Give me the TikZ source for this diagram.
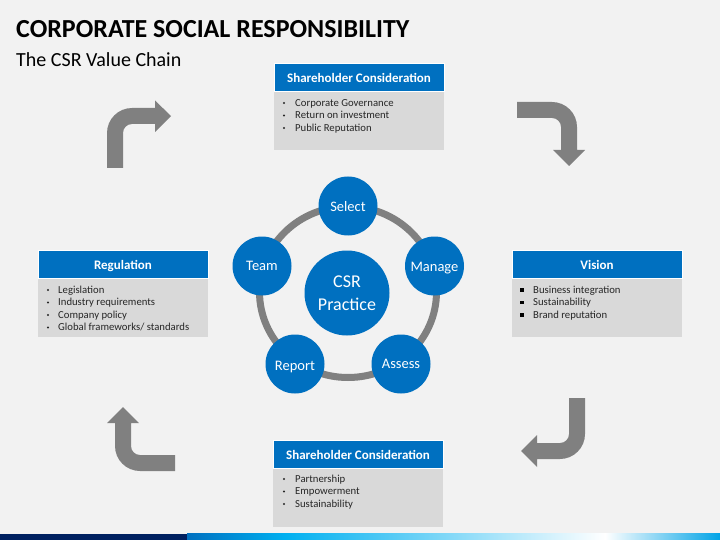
\documentclass[tikz,border=0pt]{standalone}
\usepackage{fontspec}
\setmainfont{Carlito}
\usetikzlibrary{shadings}
\definecolor{bgc}{HTML}{F2F2F2}
\definecolor{blu}{HTML}{0070C0}
\definecolor{bodyc}{HTML}{D9D9D9}
\definecolor{arrc}{HTML}{808080}
\definecolor{navy}{HTML}{002060}
\definecolor{sky}{HTML}{00B0F0}
\definecolor{txt}{HTML}{262626}
\tikzset{
  x=1pt,y=-1pt,
  hdr/.style={fill=blu,draw=white,line width=0.4pt,minimum width=170pt,minimum height=28pt,inner sep=0pt,text=white,text height=10pt,text depth=0pt,font=\fontsize{13}{15}\selectfont\bfseries},
  bodybox/.style={fill=bodyc,draw=none,anchor=north west,minimum width=170pt,minimum height=58pt,inner sep=0pt},
  item/.style={anchor=base west,inner sep=0pt,text=txt,font=\fontsize{10.7}{12}\selectfont},
  circ/.style={circle,fill=blu,draw=none,minimum size=59pt,inner sep=0pt,text=white,font=\fontsize{14.5}{17}\selectfont},
  bigarrow/.style={fill=arrc,draw=none},
}
\newcommand{\dotb}[2]{\fill[txt] (#1,#2) circle (1.2pt);}
\newcommand{\sqb}[2]{\fill[black] (#1-1.7,#2-1.7) rectangle (#1+1.7,#2+1.7);}
\newcommand{\lowered}[2]{\smash{\raisebox{-#1pt}{#2}}}
\begin{document}
\begin{tikzpicture}
\useasboundingbox (0,0) rectangle (720,540);
\fill[bgc] (0,0) rectangle (720,540);
% bottom bar
\fill[navy] (0,533.5) rectangle (187,540);
\fill[left color=blu,right color=sky] (187,533.5) rectangle (285,540);
\fill[left color=sky,right color=white] (285,533.5) rectangle (605,540);
\fill[left color=white,right color=sky!80!blu] (605,533.5) rectangle (720,540);
% title
\node[anchor=base west,inner sep=0pt,font=\fontsize{26}{30}\selectfont\bfseries,text=black] (title) at (16,37.6) {CORPORATE SOCIAL RESPONSIBILITY};
\node[anchor=base west,inner sep=0pt,font=\fontsize{20}{24}\selectfont,text=black] (subtitle) at (16,66.5) {The CSR Value Chain};
% arrows
\path[bigarrow] (107,168) -- (107,133) arc[start angle=180,end angle=90,x radius=25,y radius=-25] -- (155,108) -- (155,100.5) -- (171,116) -- (155,132) -- (155,124) -- (132,124) arc[start angle=90,end angle=180,x radius=9,y radius=-9] -- (123,168) -- cycle;
\path[bigarrow] (517,102) -- (552,102) arc[start angle=90,end angle=0,x radius=25,y radius=-25] -- (577,150) -- (585,150) -- (569,166) -- (553,150) -- (561,150) -- (561,127) arc[start angle=0,end angle=90,x radius=9,y radius=-9] -- (517,118) -- cycle;
\path[bigarrow] (585,398) -- (585,434) arc[start angle=0,end angle=-90,x radius=25,y radius=-25] -- (537,459) -- (537,467) -- (521,451) -- (537,435) -- (537,443) -- (560,443) arc[start angle=-90,end angle=0,x radius=9,y radius=-9] -- (569,398) -- cycle;
\path[bigarrow] (175,471) -- (140,471) arc[start angle=-90,end angle=-180,x radius=25,y radius=-25] -- (115,423) -- (107,423) -- (123,407) -- (139,423) -- (131,423) -- (131,446) arc[start angle=180,end angle=270,x radius=9,y radius=-9] -- (175,455) -- cycle;
% ring
\draw[arrc,line width=7pt] (348,292) ellipse [x radius=88.5,y radius=85.5];
% circles
\node[circ] (select) at (348,206) {\lowered{5.3}{Select}};
\node[circ] (team) at (262,266) {\lowered{4.5}{Team}};
\node[circ] (manage) at (434.5,266) {\lowered{5.7}{Manage}};
\node[circ] (assess) at (401,364) {\lowered{4}{Assess}};
\node[circ] (report) at (295,364) {\lowered{6}{Report}};
\node[circ,minimum size=85pt,align=center,font=\fontsize{18}{23}\selectfont] (csr) at (347,293) {CSR\\Practice};
% top box
\node[bodybox] (b1) at (274,92) {};
\node[hdr] (h1) at (359,77.5) {Shareholder Consideration};
\dotb{284}{103}\dotb{284}{115.5}\dotb{284}{128}
\node[item] (t11) at (295,106.6) {Corporate Governance};
\node[item] (t12) at (295,119) {Return on investment};
\node[item] (t13) at (295,131.6) {Public Reputation};
% left box
\node[bodybox] (b2) at (38,279) {};
\node[hdr] (h2) at (123,264) {Regulation};
\dotb{48}{290}\dotb{48}{302.5}\dotb{48}{315}\dotb{48}{327.5}
\node[item] (t21) at (58,293) {Legislation};
\node[item] (t22) at (58,305.5) {Industry requirements};
\node[item] (t23) at (58,318) {Company policy};
\node[item] (t24) at (58,330.5) {Global frameworks/ standards};
% right box
\node[bodybox] (b3) at (512,279) {};
\node[hdr] (h3) at (597,264) {Vision};
\sqb{522}{290}\sqb{522}{302.5}\sqb{522}{315}
\node[item] (t31) at (533,293) {Business integration};
\node[item] (t32) at (533,305.5) {Sustainability};
\node[item] (t33) at (533,318) {Brand reputation};
% bottom box
\node[bodybox] (b4) at (273,469) {};
\node[hdr] (h4) at (358,454.5) {Shareholder Consideration};
\dotb{284}{479}\dotb{284}{491.5}\dotb{284}{504}
\node[item] (t41) at (295,482) {Partnership};
\node[item] (t42) at (295,494.5) {Empowerment};
\node[item] (t43) at (295,507) {Sustainability};
\end{tikzpicture}
\end{document}
